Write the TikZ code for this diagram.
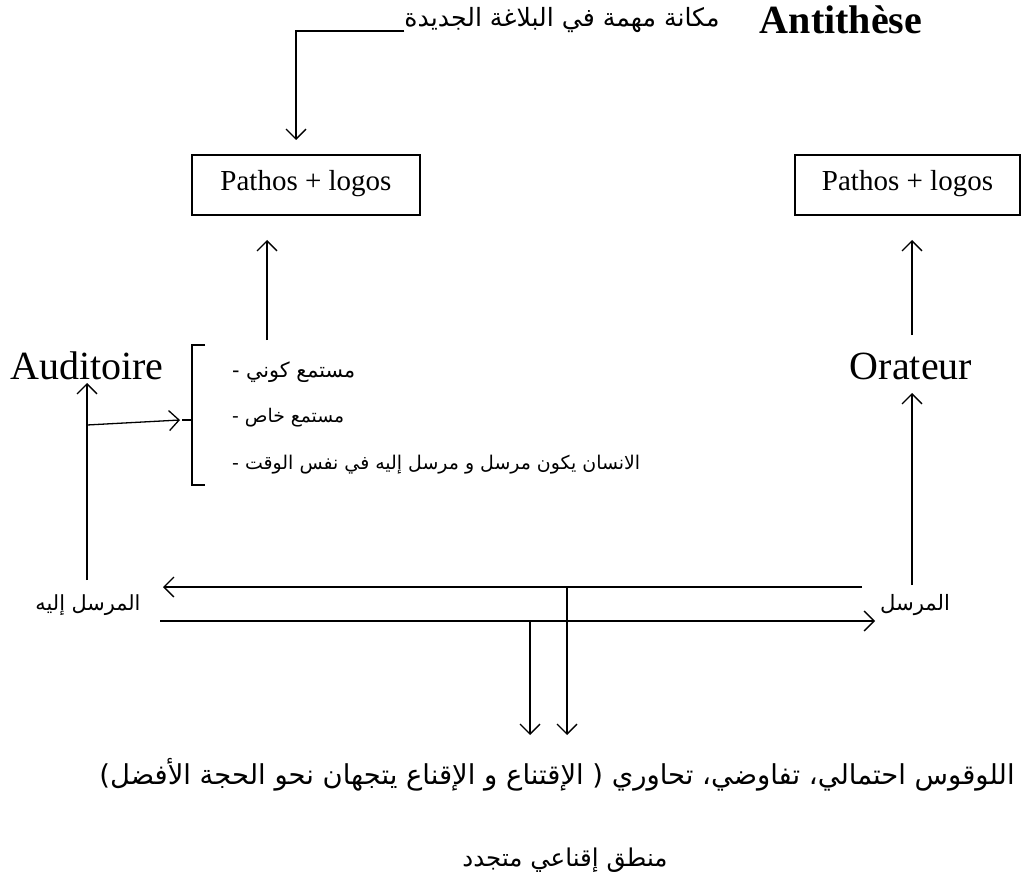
\documentclass[tikz,border=0pt]{standalone}
\usepackage{fontspec}
\usepackage{graphicx}
\usetikzlibrary{arrows.meta}
\setmainfont{Liberation Serif}
\newfontfamily\arabicfont[Script=Arabic]{DejaVu Sans}
\TeXXeTstate=1
\newcommand\artxt[2]{\resizebox{#1}{!}{\arabicfont #2}}
\tikzset{
  conn/.style={line width=1.3pt, -{Straight Barb[length=10pt,width=20pt,line width=1.3pt]}},
  plain/.style={line width=1.3pt},
  pbox/.style={draw, line width=1.3pt, minimum width=228pt, minimum height=60pt, inner sep=0pt, text depth=10pt, font=\fontsize{29}{32}\selectfont},
  big/.style={inner sep=0pt, font=\fontsize{40}{44}\selectfont},
  ar/.style={inner sep=0pt}
}
\begin{document}
\begin{tikzpicture}[x=1pt,y=-1pt]
\useasboundingbox (0,0) rectangle (1025,885);
% top
\node[inner sep=0pt, font=\fontsize{40}{44}\selectfont\bfseries] (anti) at (841,20) {Antithèse};
\node[ar] (artop) at (562,20) {\artxt{315pt}{\beginR مكانة مهمة في البلاغة الجديدة\endR}};
\node[pbox] (box1) at (306,185) {Pathos + logos};
\node[pbox, minimum width=225pt] (box2) at (907.5,185) {Pathos + logos};
\coordinate (t1) at (296,31);
\coordinate (t2) at (296,140);
\draw[conn] (artop.west |- t1) -- (t1) -- (t2);
% arrows to boxes
\coordinate (a1s) at (267,340);
\coordinate (a1e) at (267,240);
\draw[conn] (a1s) -- (a1e);
\coordinate (a2s) at (912,335);
\coordinate (a2e) at (912,240);
\draw[conn] (a2s) -- (a2e);
% Auditoire / Orateur
\node[big] (aud) at (87,366) {Auditoire};
\node[big] (ora) at (911,366) {Orateur};
% bracket
\draw[plain] (205,345) -- (192,345) -- (192,485) -- (205,485);
\coordinate (brm) at (192,420);
\draw[plain] (brm) -- ++(-10,0);
\node[ar, anchor=west] (l1) at (232,372) {\artxt{123pt}{\beginR مستمع كوني -\endR}};
\node[ar, anchor=west] (l2) at (232,418) {\artxt{112pt}{\beginR مستمع خاص -\endR}};
\node[ar, anchor=west] (l3) at (232,465) {\artxt{408pt}{\beginR الانسان يكون مرسل و مرسل إليه في نفس الوقت -\endR}};
% senders
\node[ar] (mri) at (88,605) {\artxt{105pt}{\beginR المرسل إليه\endR}};
\node[ar] (mrs) at (915,605) {\artxt{70pt}{\beginR المرسل\endR}};
\coordinate (audb) at (87,383);
\coordinate (mrit) at (87,580);
\draw[conn] (mrit) -- (audb);
\coordinate (brs) at (87,425);
\draw[conn] (brs) -- (180,420);
\coordinate (orab) at (912,393);
\coordinate (mrst) at (912,585);
\draw[conn] (mrst) -- (orab);
% horizontal arrows
\coordinate (h1s) at (862,587);
\coordinate (h1e) at (163,587);
\draw[conn] (h1s) -- (h1e);
\coordinate (h2s) at (160,621);
\coordinate (h2e) at (875,621);
\draw[conn] (h2s) -- (h2e);
% down arrows
\coordinate (d1s) at (567,587);
\coordinate (d1e) at (567,735);
\draw[conn] (d1s) -- (d1e);
\coordinate (d2s) at (530,621);
\coordinate (d2e) at (530,735);
\draw[conn] (d2s) -- (d2e);
% bottom texts
\node[ar] (logos) at (557,775) {\artxt{915pt}{\beginR اللوقوس احتمالي، تفاوضي، تحاوري ( الإقتناع و الإقناع يتجهان نحو الحجة الأفضل)\endR}};
\node[ar] (mantiq) at (565,860) {\artxt{205pt}{\beginR منطق إقناعي متجدد\endR}};
\end{tikzpicture}
\end{document}
